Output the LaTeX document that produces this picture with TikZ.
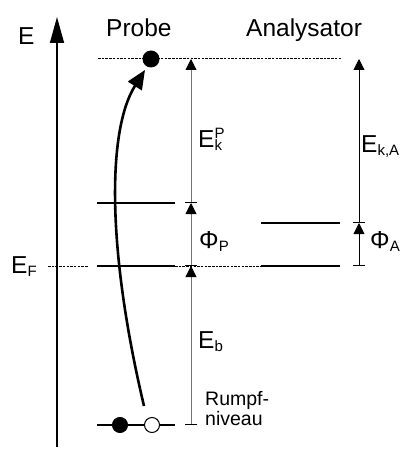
\documentclass[tikz,border=0pt]{standalone}
\usepackage{fontspec}
\setmainfont{Liberation Sans}
\usetikzlibrary{arrows.meta}
\newcommand{\subs}[1]{\raisebox{-3pt}{\fontsize{15}{15}\selectfont #1}}
\newcommand{\sups}[1]{\raisebox{9pt}{\fontsize{15}{15}\selectfont #1}}
\begin{document}
\begin{tikzpicture}[x=1pt,y=-1pt,
  lbl/.style={inner sep=0pt, anchor=base west, font=\fontsize{24.5}{28}\selectfont},
  small/.style={inner sep=0pt, anchor=base west, font=\fontsize{19.5}{20}\selectfont, align=left},
  level/.style={line width=1.3pt},
  dotline/.style={line width=1pt, dash pattern=on 2.5pt off 1.2pt},
  meas/.style={line width=0.9pt, {Bar[width=12pt,color=black]}-{Triangle[length=11pt,width=11pt,color=black]}},
]
\useasboundingbox (0,0) rectangle (404,449);
% coordinates
\coordinate (axB) at (57,447);
\coordinate (axT) at (57,17);
\coordinate (topL) at (98,59);
\coordinate (topR) at (341,59);
\coordinate (efL) at (48,266);
\coordinate (efM1) at (88,266);
\coordinate (pL1) at (97,266);
\coordinate (pR1) at (175,266);
\coordinate (efR) at (261,266);
\coordinate (aL1) at (261,266);
\coordinate (aR1) at (340,266);
\coordinate (aL2) at (261,223);
\coordinate (aR2) at (340,223);
\coordinate (pL2) at (97,203);
\coordinate (pR2) at (175,203);
\coordinate (cL) at (97,425);
\coordinate (cR) at (175,425);
\coordinate (m0) at (191,425);
\coordinate (m1) at (191,266);
\coordinate (m2) at (191,203);
\coordinate (m3) at (191,59);
\coordinate (r1) at (359,266);
\coordinate (r2) at (359,223);
\coordinate (r3) at (359,59);
\coordinate (cs) at (144,406);
\coordinate (ce) at (145,70);
% axis
\draw[line width=1.5pt, -{Triangle[length=26pt,width=14pt]}] (axB) -- (axT);
\node[lbl] (lE) at (18,45) {E};
\node[lbl] (lProbe) at (106,37) {Probe};
\node[lbl] (lAna) at (246,37) {Analysator};
% levels
\draw[dotline] (topL) -- (topR);
\draw[dotline] (efL) -- (efM1);
\draw[dotline] (pR1) -- (efR);
\draw[level] (pL1) -- (pR1);
\draw[level] (pL2) -- (pR2);
\draw[level] (aL1) -- (aR1);
\draw[level] (aL2) -- (aR2);
\draw[level] (cL) -- (cR);
\fill (151,59) circle (8.5pt) node (dotTop) {};
\filldraw[line width=1pt] (120,425) circle (7.5pt) node (dotCore) {};
\draw[line width=1pt, fill=white] (152,425) circle (7.5pt) node (hole) {};
% measurement arrows
\draw[meas, draw=black!55] (m0) -- (m1);
\draw[meas, draw=black!55] (m1) -- (m2);
\draw[meas, draw=black!55] (m2) -- (m3);
\draw[meas] (r1) -- (r2);
\draw[meas] (r2) -- (r3);
% excitation arrow
\draw[line width=2.6pt, -{Triangle[length=19pt,width=16pt]}] (cs) .. controls (107,250) and (107,130) .. (ce);
% labels
\node[lbl] (lEF) at (11,273) {E\subs{F}};
\node[lbl] (lEkP) at (198,147) {E\rlap{\sups{P}}\subs{k}};
\node[lbl] (lPhiP) at (199,248) {Φ\subs{P}};
\node[lbl] (lEkA) at (361,153) {E\subs{k,A}};
\node[lbl] (lPhiA) at (370,248) {Φ\subs{A}};
\node[lbl] (lEb) at (198,348) {E\subs{b}};
\node[small] (lR) at (205,425) {Rumpf-\\niveau};
\end{tikzpicture}
\end{document}
